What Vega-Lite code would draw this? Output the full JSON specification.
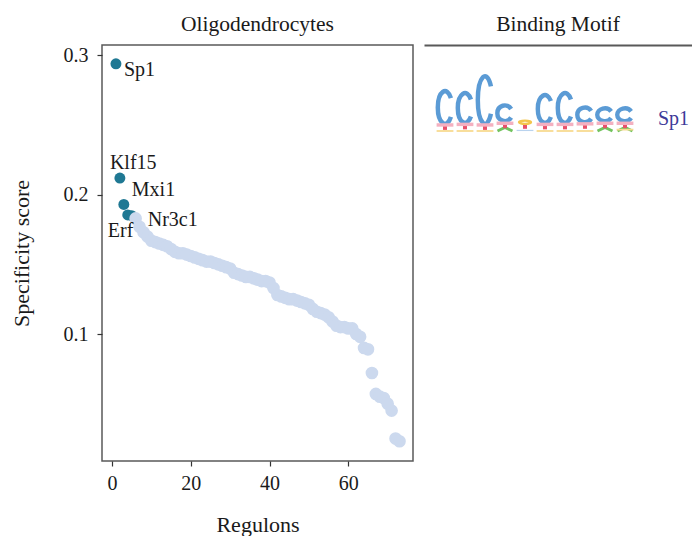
{
  "$schema": "https://vega.github.io/schema/vega-lite/v6.json",
  "padding": {"left": 9, "top": 12, "right": 0, "bottom": 0},
  "background": "white",
  "config": {
    "font": "Liberation Serif",
    "view": {"stroke": null},
    "concat": {"spacing": 10},
    "title": {"fontSize": 21.5, "fontWeight": "normal", "color": "#1a1a1a", "offset": 10},
    "axis": {
      "labelFontSize": 20, "titleFontSize": 22, "titleFontWeight": "normal",
      "labelColor": "#1a1a1a", "titleColor": "#1a1a1a",
      "tickColor": "#333333", "tickSize": 5, "tickWidth": 1.2, "grid": false, "domain": false
    }
  },
  "datasets": {
    "rss": [
      {"rank": 1, "score": 0.294, "regulon": "Sp1"},
      {"rank": 2, "score": 0.212, "regulon": "Klf15"},
      {"rank": 3, "score": 0.193, "regulon": "Mxi1"},
      {"rank": 4, "score": 0.1855, "regulon": "Erf"},
      {"rank": 5, "score": 0.185, "regulon": "Nr3c1"},
      {"rank": 6, "score": 0.183},
      {"rank": 7, "score": 0.177},
      {"rank": 8, "score": 0.173},
      {"rank": 9, "score": 0.170},
      {"rank": 10, "score": 0.167},
      {"rank": 11, "score": 0.166},
      {"rank": 12, "score": 0.165},
      {"rank": 13, "score": 0.164},
      {"rank": 14, "score": 0.163},
      {"rank": 15, "score": 0.161},
      {"rank": 16, "score": 0.159},
      {"rank": 17, "score": 0.158},
      {"rank": 18, "score": 0.158},
      {"rank": 19, "score": 0.157},
      {"rank": 20, "score": 0.156},
      {"rank": 21, "score": 0.155},
      {"rank": 22, "score": 0.154},
      {"rank": 23, "score": 0.153},
      {"rank": 24, "score": 0.152},
      {"rank": 25, "score": 0.152},
      {"rank": 26, "score": 0.151},
      {"rank": 27, "score": 0.150},
      {"rank": 28, "score": 0.149},
      {"rank": 29, "score": 0.148},
      {"rank": 30, "score": 0.147},
      {"rank": 31, "score": 0.144},
      {"rank": 32, "score": 0.143},
      {"rank": 33, "score": 0.142},
      {"rank": 34, "score": 0.141},
      {"rank": 35, "score": 0.141},
      {"rank": 36, "score": 0.140},
      {"rank": 37, "score": 0.139},
      {"rank": 38, "score": 0.138},
      {"rank": 39, "score": 0.138},
      {"rank": 40, "score": 0.137},
      {"rank": 41, "score": 0.133},
      {"rank": 42, "score": 0.128},
      {"rank": 43, "score": 0.127},
      {"rank": 44, "score": 0.126},
      {"rank": 45, "score": 0.125},
      {"rank": 46, "score": 0.125},
      {"rank": 47, "score": 0.124},
      {"rank": 48, "score": 0.123},
      {"rank": 49, "score": 0.122},
      {"rank": 50, "score": 0.121},
      {"rank": 51, "score": 0.118},
      {"rank": 52, "score": 0.116},
      {"rank": 53, "score": 0.115},
      {"rank": 54, "score": 0.114},
      {"rank": 55, "score": 0.112},
      {"rank": 56, "score": 0.109},
      {"rank": 57, "score": 0.106},
      {"rank": 58, "score": 0.105},
      {"rank": 59, "score": 0.105},
      {"rank": 60, "score": 0.104},
      {"rank": 61, "score": 0.104},
      {"rank": 62, "score": 0.100},
      {"rank": 63, "score": 0.098},
      {"rank": 64, "score": 0.090},
      {"rank": 65, "score": 0.089},
      {"rank": 66, "score": 0.072},
      {"rank": 67, "score": 0.057},
      {"rank": 68, "score": 0.055},
      {"rank": 69, "score": 0.054},
      {"rank": 70, "score": 0.050},
      {"rank": 71, "score": 0.045},
      {"rank": 72, "score": 0.025},
      {"rank": 73, "score": 0.023}
    ],
    "letters": [
      {"pos": 1, "base": "C", "bits": 1.35, "y0": 0.18},
      {"pos": 2, "base": "C", "bits": 1.24, "y0": 0.22},
      {"pos": 3, "base": "C", "bits": 1.89, "y0": 0.18},
      {"pos": 4, "base": "C", "bits": 0.69, "y0": 0.3},
      {"pos": 6, "base": "C", "bits": 1.16, "y0": 0.22},
      {"pos": 7, "base": "C", "bits": 1.24, "y0": 0.22},
      {"pos": 8, "base": "C", "bits": 0.65, "y0": 0.26},
      {"pos": 9, "base": "C", "bits": 0.58, "y0": 0.3},
      {"pos": 10, "base": "C", "bits": 0.58, "y0": 0.3}
    ],
    "minor": [
      {"pos": 1, "base": "T", "y0": 0.04}, {"pos": 1, "base": "t", "y0": 0.22}, {"pos": 1, "base": "g", "y0": 0.0},
      {"pos": 2, "base": "T", "y0": 0.06}, {"pos": 2, "base": "t", "y0": 0.24}, {"pos": 2, "base": "g", "y0": 0.0},
      {"pos": 3, "base": "T", "y0": 0.04}, {"pos": 3, "base": "t", "y0": 0.22}, {"pos": 3, "base": "g", "y0": 0.0},
      {"pos": 4, "base": "A", "y0": 0.0}, {"pos": 4, "base": "T", "y0": 0.1}, {"pos": 4, "base": "t", "y0": 0.28},
      {"pos": 5, "base": "T", "y0": 0.08}, {"pos": 5, "base": "G", "y0": 0.24}, {"pos": 5, "base": "c", "y0": 0.02},
      {"pos": 6, "base": "T", "y0": 0.06}, {"pos": 6, "base": "t", "y0": 0.24}, {"pos": 6, "base": "g", "y0": 0.0},
      {"pos": 7, "base": "T", "y0": 0.06}, {"pos": 7, "base": "t", "y0": 0.24}, {"pos": 7, "base": "g", "y0": 0.0},
      {"pos": 8, "base": "T", "y0": 0.08}, {"pos": 8, "base": "t", "y0": 0.26}, {"pos": 8, "base": "g", "y0": 0.0},
      {"pos": 9, "base": "A", "y0": 0.0}, {"pos": 9, "base": "T", "y0": 0.1}, {"pos": 9, "base": "t", "y0": 0.28},
      {"pos": 10, "base": "A", "y0": 0.0}, {"pos": 10, "base": "T", "y0": 0.1}, {"pos": 10, "base": "t", "y0": 0.28}, {"pos": 10, "base": "g", "y0": 0.05}
    ],
    "motif": [{"motif": "Sp1"}]
  },
  "hconcat": [
    {
      "width": 311,
      "height": 416,
      "title": "Oligodendrocytes",
      "view": {"stroke": "#595959", "strokeWidth": 1.5},
      "data": {"name": "rss"},
      "layer": [
        {
          "mark": {"type": "circle", "opacity": 1},
          "encoding": {
            "x": {"field": "rank", "type": "quantitative",
              "scale": {"domain": [-2.54, 76.43], "nice": false, "zero": false},
              "axis": {"title": "Regulons", "values": [0, 20, 40, 60], "labelPadding": 7, "titlePadding": 21}},
            "y": {"field": "score", "type": "quantitative",
              "scale": {"domain": [0.00883, 0.3075], "nice": false, "zero": false},
              "axis": {"title": "Specificity score", "values": [0.1, 0.2, 0.3], "format": ".1f", "labelPadding": 9, "titlePadding": 30}},
            "color": {"condition": {"test": "datum.regulon != null", "value": "#1F7893"}, "value": "#CCD9EE"},
            "size": {"condition": {"test": "datum.regulon != null", "value": 120}, "value": 160}
          }
        },
        {
          "transform": [{"filter": "datum.regulon == 'Sp1'"}],
          "mark": {"type": "text", "align": "left", "baseline": "alphabetic", "dx": 8, "dy": 12, "fontSize": 20, "color": "#1a1a1a"},
          "encoding": {"x": {"field": "rank", "type": "quantitative"}, "y": {"field": "score", "type": "quantitative"}, "text": {"field": "regulon"}}
        },
        {
          "transform": [{"filter": "datum.regulon == 'Klf15'"}],
          "mark": {"type": "text", "align": "left", "baseline": "alphabetic", "dx": -10, "dy": -9, "fontSize": 20, "color": "#1a1a1a"},
          "encoding": {"x": {"field": "rank", "type": "quantitative"}, "y": {"field": "score", "type": "quantitative"}, "text": {"field": "regulon"}}
        },
        {
          "transform": [{"filter": "datum.regulon == 'Mxi1'"}],
          "mark": {"type": "text", "align": "left", "baseline": "alphabetic", "dx": 8, "dy": -8, "fontSize": 20, "color": "#1a1a1a"},
          "encoding": {"x": {"field": "rank", "type": "quantitative"}, "y": {"field": "score", "type": "quantitative"}, "text": {"field": "regulon"}}
        },
        {
          "transform": [{"filter": "datum.regulon == 'Nr3c1'"}],
          "mark": {"type": "text", "align": "left", "baseline": "alphabetic", "dx": 16, "dy": 10, "fontSize": 20, "color": "#1a1a1a"},
          "encoding": {"x": {"field": "rank", "type": "quantitative"}, "y": {"field": "score", "type": "quantitative"}, "text": {"field": "regulon"}}
        },
        {
          "transform": [{"filter": "datum.regulon == 'Erf'"}],
          "mark": {"type": "text", "align": "left", "baseline": "alphabetic", "dx": -20, "dy": 22, "fontSize": 20, "color": "#1a1a1a"},
          "encoding": {"x": {"field": "rank", "type": "quantitative"}, "y": {"field": "score", "type": "quantitative"}, "text": {"field": "regulon"}}
        }
      ]
    },
    {
      "width": 268,
      "height": 416,
      "title": "Binding Motif",
      "layer": [
        {
          "data": {"name": "letters"},
          "mark": {"type": "point", "filled": false, "opacity": 1, "size": 3600, "color": "#5B9BD5"},
          "encoding": {
            "x": {"field": "pos", "type": "quantitative",
              "scale": {"domain": [-0.05, 13.35], "nice": false, "zero": false},
              "axis": {"orient": "top", "title": null, "labels": false, "ticks": false, "domain": true, "domainColor": "#595959", "domainWidth": 2}},
            "y": {"field": "y0", "type": "quantitative",
              "scale": {"domain": [-12, 3.127], "nice": false, "zero": false}, "axis": null},
            "shape": {"field": "bits", "type": "nominal", "legend": null,
              "scale": {
                "domain": [1.35, 1.24, 1.89, 0.69, 1.16, 0.65, 0.58],
                "range": [
                  "M 0.197 -0.930 A 0.24 0.545 0 1 0 0.197 -0.304",
                  "M 0.197 -0.851 A 0.24 0.495 0 1 0 0.197 -0.283",
                  "M 0.197 -1.323 A 0.24 0.795 0 1 0 0.197 -0.411",
                  "M 0.205 -0.458 A 0.25 0.260 0 1 0 0.205 -0.176",
                  "M 0.197 -0.798 A 0.24 0.462 0 1 0 0.197 -0.268",
                  "M 0.205 -0.431 A 0.25 0.245 0 1 0 0.205 -0.169",
                  "M 0.205 -0.379 A 0.25 0.215 0 1 0 0.205 -0.155"
                ]
              }},
            "strokeWidth": {"field": "bits", "type": "nominal", "legend": null,
              "scale": {"domain": [1.35, 1.24, 1.89, 0.69, 1.16, 0.65, 0.58], "range": [4.5, 4.4, 4.8, 2.9, 4.3, 2.9, 2.8]}}
          }
        },
        {
          "data": {"name": "minor"},
          "mark": {"type": "point", "filled": false, "opacity": 1, "size": 3600},
          "encoding": {
            "x": {"field": "pos", "type": "quantitative"},
            "y": {"field": "y0", "type": "quantitative", "axis": null},
            "shape": {"field": "base", "type": "nominal", "legend": null,
              "scale": {
                "domain": ["T", "t", "A", "G", "g", "c"],
                "range": [
                  "M 0 -0.13 L 0 0",
                  "M -0.28 0 L 0.28 0",
                  "M -0.25 0 L 0 -0.12 L 0.25 0",
                  "M -0.2 -0.07 A 0.2 0.055 0 1 0 0.2 -0.07 A 0.2 0.055 0 1 0 -0.2 -0.07",
                  "M -0.28 0 L 0.28 0",
                  "M -0.28 0 L 0.28 0"
                ]
              }},
            "color": {"field": "base", "type": "nominal", "legend": null,
              "scale": {"domain": ["T", "t", "A", "G", "g", "c"], "range": ["#E8506A", "#F4B0C0", "#72C35E", "#F3C54D", "#F7DA8E", "#B9D3EE"]}},
            "strokeWidth": {"field": "base", "type": "nominal", "legend": null,
              "scale": {"domain": ["T", "t", "A", "G", "g", "c"], "range": [4, 1.2, 1.8, 1.6, 1.2, 1.5]}}
          }
        },
        {
          "data": {"name": "motif"},
          "mark": {"type": "text", "align": "left", "baseline": "middle", "fontSize": 20, "color": "#3D3A99"},
          "encoding": {
            "x": {"datum": 11.65, "type": "quantitative"},
            "y": {"datum": 0.44, "type": "quantitative", "axis": null},
            "text": {"field": "motif"}
          }
        }
      ],
      "resolve": {"scale": {"shape": "independent", "color": "independent", "strokeWidth": "independent"}}
    }
  ]
}
